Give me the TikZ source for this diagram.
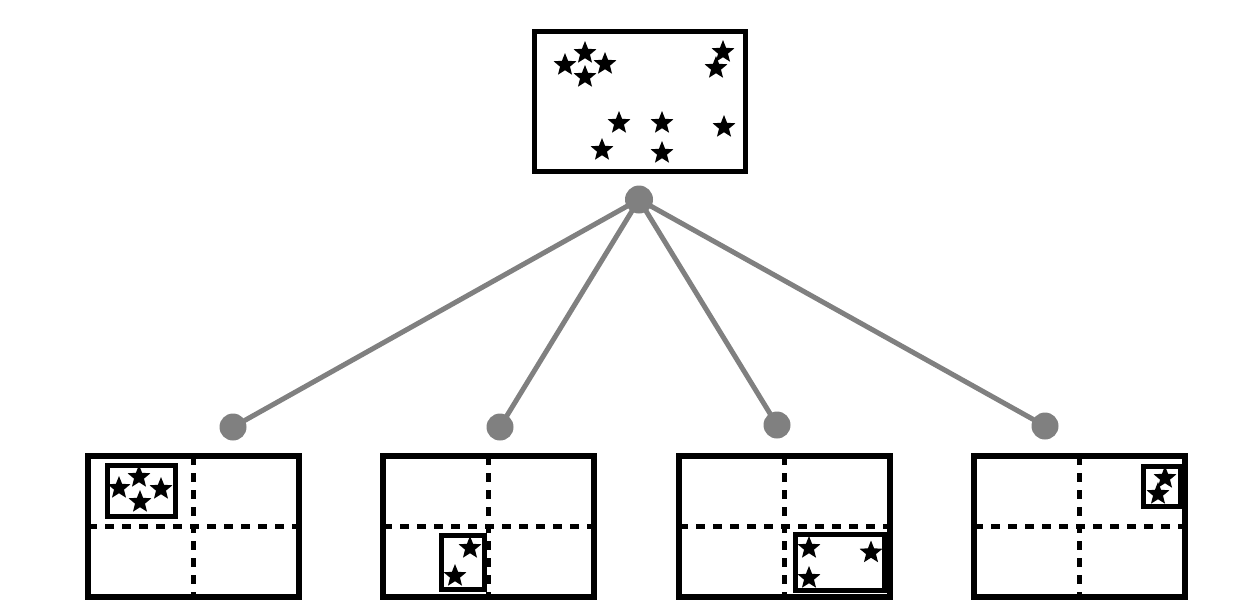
\documentclass[tikz,border=0pt]{standalone}
\usetikzlibrary{shapes.geometric}
\definecolor{edgegray}{RGB}{128,128,128}
\begin{document}
\begin{tikzpicture}[x=1pt,y=-1pt,
  bigbox/.style={draw=black,line width=5.5pt,minimum width=211pt,minimum height=141pt,inner sep=0pt,outer sep=0pt},
  subbox/.style={draw=black,line width=5pt,inner sep=0pt,outer sep=0pt},
  dsh/.style={draw=black,line width=4.5pt,dash pattern=on 9pt off 8pt},
  dot/.style={circle,fill=edgegray,inner sep=0pt,minimum size=27pt},
  edge/.style={draw=edgegray,line width=5pt},
  st/.style={star,star points=5,star point ratio=2.3,fill=black,inner sep=0pt,minimum size=24pt}]
\useasboundingbox (0,0) rectangle (1260,611);
% boxes
\node[bigbox,minimum height=140pt] (top) at (640,101.5) {};
\node[bigbox] (b1) at (193.7,526.5) {};
\node[bigbox] (b2) at (488.7,526.5) {};
\node[bigbox] (b3) at (784.7,526.5) {};
\node[bigbox] (b4) at (1079.7,526.5) {};
% quadrant dividers
\foreach \b in {b1,b2,b3,b4}{
  \draw[dsh] (\b.north) -- (\b.south);
  \draw[dsh] (\b.west) -- (\b.east);
}
% sub-boxes
\node[subbox,minimum width=68pt,minimum height=51pt] (i1) at (141,490.5) {};
\node[subbox,minimum width=43pt,minimum height=53.5pt] (i2) at (462.5,562.25) {};
\node[subbox,minimum width=89pt,minimum height=55.5pt] (i3) at (839.5,562.25) {};
\node[subbox,minimum width=37pt,minimum height=40pt] (i4) at (1162,486) {};
% stars in top box
\foreach \p [count=\i] in {(565,65),(585,53),(605,64),(585,77),(723,52),(716,68),(619,123),(662,123),(724,127),(602,150),(662,153)}
  \node[st] (t\i) at \p {};
% stars in sub-boxes
\foreach \p [count=\i] in {(119,488),(139,477),(161,489),(140,502)}
  \node[st] (sa\i) at \p {};
\foreach \p [count=\i] in {(470,548),(455,576)}
  \node[st] (sb\i) at \p {};
\foreach \p [count=\i] in {(809,548),(871,552.5),(809,578)}
  \node[st] (sc\i) at \p {};
\foreach \p [count=\i] in {(1165,478),(1158,494)}
  \node[st] (sd\i) at \p {};
% tree
\node[dot,minimum size=28pt] (r) at (639,199.5) {};
\node[dot] (c1) at (233,427) {};
\node[dot] (c2) at (500,427) {};
\node[dot] (c3) at (777,425) {};
\node[dot] (c4) at (1045,426) {};
\foreach \c in {c1,c2,c3,c4}
  \draw[edge] (r.center) -- (\c.center);
\end{tikzpicture}
\end{document}
